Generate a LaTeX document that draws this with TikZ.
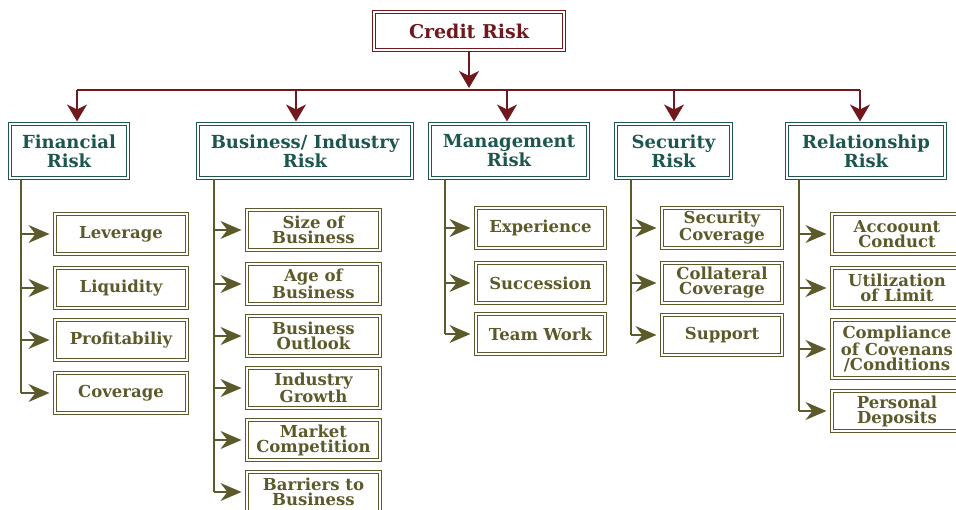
\documentclass[tikz,border=0pt]{standalone}
\usepackage{fontspec}
\setmainfont{DejaVu Serif}
\usepackage{tikz}
\usetikzlibrary{arrows.meta}

\definecolor{riskred}{RGB}{112,24,30}
\definecolor{riskteal}{RGB}{28,86,78}
\definecolor{riskolive}{RGB}{92,90,42}

\tikzset{
  rootbox/.style={draw=riskred, double=white, double distance=1.8pt, line width=1.1pt,
    text=riskred, font=\fontsize{19}{20}\selectfont\bfseries, inner sep=0pt},
  groupbox/.style={draw=riskteal, double=white, double distance=1.8pt, line width=1.1pt,
    text=riskteal, font=\fontsize{18}{19}\selectfont\bfseries, align=center,
    minimum height=54, inner sep=0pt},
  leafbox/.style={draw=riskolive, double=white, double distance=1.8pt, line width=1.1pt,
    text=riskolive, font=\fontsize{16.5}{15}\selectfont\bfseries, align=center,
    minimum height=40, inner sep=0pt},
  redline/.style={draw=riskred, fill=riskred, line width=1.3pt},
  oliveline/.style={draw=riskolive, fill=riskolive, line width=1.3pt},
  downtip/.style={-{Stealth[length=17pt,width=20pt,inset=5pt]}, shorten >=2pt},
  sidetip/.style={-{Stealth[length=21pt,width=18pt,inset=7pt]}, shorten >=5pt}
}

\begin{document}
\begin{tikzpicture}[x=1pt,y=1pt,yscale=-1,xscale=1]
\useasboundingbox (0,0) rectangle (956,510);

% Root
\node[rootbox, minimum width=190, minimum height=38] (credit) at (469,31) {Credit Risk};

% Risk groups
\node[groupbox, minimum width=118] (fin) at (69,151)    {Financial\\Risk};
\node[groupbox, minimum width=214] (biz) at (305,151)   {Business/ Industry\\Risk};
\node[groupbox, minimum width=158] (mgt) at (509,151)   {Management\\Risk};
\node[groupbox, minimum width=115] (sec) at (673.5,151) {Security\\Risk};
\node[groupbox, minimum width=158] (rel) at (866,151)   {Relationship\\Risk};

% Bus line under the root
\coordinate (hub) at (469,90);
\draw[redline, downtip] (credit) -- (hub);
\draw[redline] ([xshift=8]fin.north |- hub) -- ([xshift=-6]rel.north |- hub);
\foreach \g/\dx in {fin/8, biz/-9, mgt/-2, sec/0.5, rel/-6}
  \draw[redline, downtip] ([xshift=\dx]\g.north |- hub) -- ([xshift=\dx]\g.north);

% Financial
\node[leafbox, minimum width=132] (lev) at (121,234) {Leverage};
\node[leafbox, minimum width=132] (liq) at (121,288) {Liquidity};
\node[leafbox, minimum width=132] (pro) at (121,340) {Profitabiliy};
\node[leafbox, minimum width=132] (cov) at (121,393) {Coverage};

% Business/Industry
\node[leafbox, minimum width=133] (size) at (313.5,230) {Size of\\Business};
\node[leafbox, minimum width=133] (age)  at (313.5,284) {Age of\\Business};
\node[leafbox, minimum width=133] (outl) at (313.5,336) {Business\\Outlook};
\node[leafbox, minimum width=133] (grow) at (313.5,388) {Industry\\Growth};
\node[leafbox, minimum width=133] (comp) at (313.5,440) {Market\\Competition};
\node[leafbox, minimum width=133] (barr) at (313.5,492) {Barriers to\\Business};

% Management
\node[leafbox, minimum width=129] (exp)  at (540.5,228) {Experience};
\node[leafbox, minimum width=129] (succ) at (540.5,283) {Succession};
\node[leafbox, minimum width=129] (team) at (540.5,334) {Team Work};

% Security
\node[leafbox, minimum width=120] (scov) at (722,228) {Security\\Coverage};
\node[leafbox, minimum width=120] (ccov) at (722,283) {Collateral\\Coverage};
\node[leafbox, minimum width=120] (supp) at (722,335) {Support};

% Relationship
\node[leafbox, minimum width=130] (acc)  at (897,234) {Accoount\\Conduct};
\node[leafbox, minimum width=130] (util) at (897,288) {Utilization\\of Limit};
\node[leafbox, minimum width=130, minimum height=58] (cmpl) at (897,349) {Compliance\\of Covenans\\/Conditions};
\node[leafbox, minimum width=130] (dep)  at (897,411) {Personal\\Deposits};

% Trunks and side arrows
\coordinate (ft) at ([xshift=-48]fin.south);
\coordinate (bt) at ([xshift=-91]biz.south);
\coordinate (mt) at ([xshift=-64]mgt.south);
\coordinate (st) at ([xshift=-42.5]sec.south);
\coordinate (rt) at ([xshift=-67]rel.south);

\draw[oliveline] (ft) -- (ft |- cov);
\foreach \k in {lev, liq, pro, cov}
  \draw[oliveline, sidetip] (ft |- \k) -- (\k);

\draw[oliveline] (bt) -- (bt |- barr);
\foreach \k in {size, age, outl, grow, comp, barr}
  \draw[oliveline, sidetip] (bt |- \k) -- (\k);

\draw[oliveline] (mt) -- (mt |- team);
\foreach \k in {exp, succ, team}
  \draw[oliveline, sidetip] (mt |- \k) -- (\k);

\draw[oliveline] (st) -- (st |- supp);
\foreach \k in {scov, ccov, supp}
  \draw[oliveline, sidetip] (st |- \k) -- (\k);

\draw[oliveline] (rt) -- (rt |- dep);
\foreach \k in {acc, util, cmpl, dep}
  \draw[oliveline, sidetip] (rt |- \k) -- (\k);
\end{tikzpicture}
\end{document}
